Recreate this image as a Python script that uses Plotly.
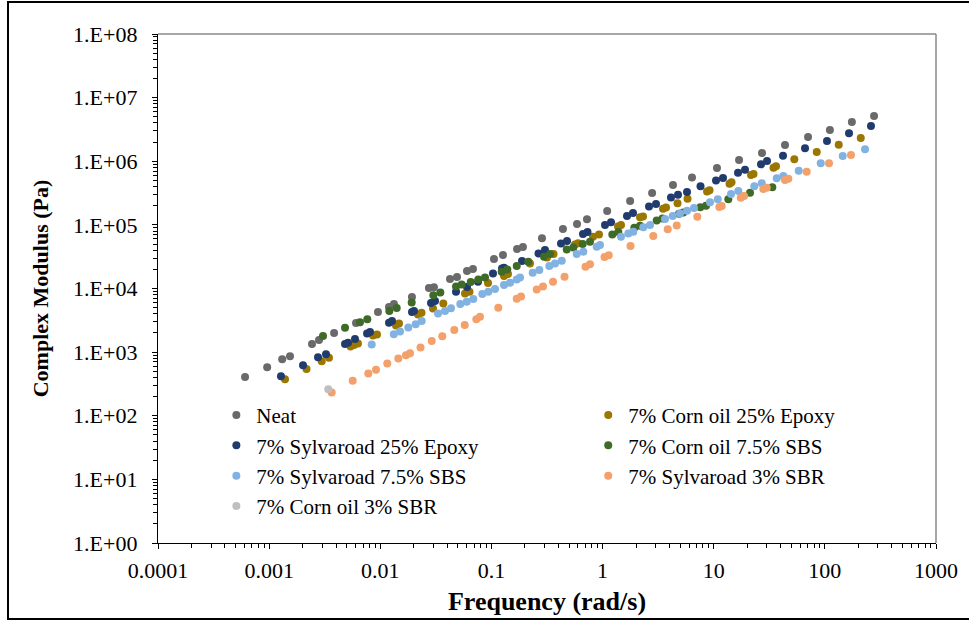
import plotly.graph_objects as go

# Complex modulus master curves (frequency in rad/s, modulus in Pa)
freq_neat = [6.07e-4, 9.6e-4, 1.31e-3, 1.54e-3, 2.43e-3, 2.81e-3, 3.84e-3, 6.05e-3, 9.53e-3, 0.01197,
             0.01327, 0.01927, 0.0274, 0.0304, 0.0424, 0.0490, 0.0603, 0.0682, 0.1054, 0.127,
             0.170, 0.192, 0.285, 0.440, 0.589, 0.724, 1.10, 1.77, 2.79, 4.30,
             6.38, 10.7, 16.9, 27.2, 43.8, 70.6, 111, 175, 277]
g_neat = [405, 581, 776, 865, 1336, 1545, 1990, 2860, 4260, 5100,
          5690, 7330, 10150, 10500, 14060, 15100, 18790, 20200, 28990, 33500,
          41600, 44800, 61900, 85900, 103000, 123000, 165000, 237000, 316000, 423000,
          555000, 782000, 1.045e6, 1.346e6, 1.80e6, 2.40e6, 3.10e6, 4.13e6, 5.14e6]

freq_co_epoxy = [1.389e-3, 2.169e-3, 2.972e-3, 3.456e-3, 5.398e-3, 5.80e-3, 6.30e-3, 8.60e-3, 9.34e-3, 0.01385,
                 0.01474, 0.02184, 0.02349, 0.02981, 0.03690, 0.05786, 0.06350, 0.09316, 0.1298, 0.1410,
                 0.2225, 0.3163, 0.3620, 0.5649, 0.6012, 0.8203, 0.9290, 1.377, 1.465, 2.172,
                 2.311, 3.498, 3.722, 4.724, 5.812, 8.706, 9.167, 13.88, 14.46, 21.66,
                 22.81, 34.51, 36.35, 53.12, 84.5, 133.3, 210.3]
g_co_epoxy = [376, 544, 722, 819, 1221, 1289, 1370, 1817, 1898, 2610,
              2827, 3887, 4149, 4865, 5832, 8375, 8873, 12160, 15670, 16840,
              24630, 30610, 34750, 49010, 51380, 65010, 70400, 94040, 99290, 131200,
              136000, 179100, 187100, 217800, 257300, 333900, 348700, 442800, 465800, 606700,
              629000, 790500, 831700, 1.071e6, 1.395e6, 1.817e6, 2.316e6]

freq_sy_epoxy = [1.278e-3, 2.017e-3, 2.752e-3, 3.249e-3, 4.816e-3, 5.125e-3, 5.92e-3, 7.60e-3, 8.08e-3, 0.01198,
                 0.01275, 0.01929, 0.02011, 0.02861, 0.03108, 0.04802, 0.06031, 0.07572, 0.1033, 0.1245,
                 0.1298, 0.1884, 0.2652, 0.3034, 0.4228, 0.4787, 0.6668, 0.7320, 1.052, 1.191,
                 1.659, 1.878, 2.617, 3.026, 4.128, 4.773, 5.752, 7.606, 10.49, 12.12,
                 16.55, 19.12, 26.65, 30.18, 42.02, 66.3, 104.5, 165, 260]
g_sy_epoxy = [419, 624, 834, 930, 1336, 1410, 1601, 1954, 2063, 2888,
              3072, 4256, 4413, 5894, 6336, 8873, 10520, 12740, 17150, 20560,
              21160, 26970, 35640, 40170, 51190, 55640, 71670, 77030, 99290, 109500,
              137500, 153300, 194000, 212300, 268700, 297400, 328000, 402900, 497300, 544300,
              659400, 735100, 894000, 1.007e6, 1.22e6, 1.595e6, 2.078e6, 2.747e6, 3.577e6]

freq_co_sbs = [3.052e-3, 4.816e-3, 6.568e-3, 7.641e-3, 0.01206, 0.01405, 0.01917, 0.03000, 0.03468, 0.04802,
               0.05402, 0.06510, 0.07621, 0.08753, 0.1237, 0.1389, 0.1689, 0.2147, 0.2972, 0.3366,
               0.4758, 0.5454, 0.6627, 0.7708, 1.224, 1.386, 1.930, 2.172, 3.070, 3.462,
               4.873, 5.327, 7.575, 8.524, 13.53, 21.21, 33.67]
g_co_sbs = [1785, 2411, 2941, 3280, 4444, 4918, 6002, 7818, 8620, 10710,
            11520, 12700, 13800, 14950, 18310, 19970, 22500, 26290, 31510, 34750,
            41190, 44290, 49900, 54240, 70890, 77030, 90070, 96790, 116800, 125600,
            149400, 157200, 189100, 199700, 251700, 319800, 388800]

freq_sy_sbs = [8.372e-3, 0.01323, 0.01504, 0.01787, 0.02083, 0.02359, 0.03307, 0.03822, 0.04328, 0.05248,
               0.05993, 0.06871, 0.08279, 0.09374, 0.1077, 0.1298, 0.1469, 0.1689, 0.1808, 0.2351,
               0.2697, 0.3317, 0.3734, 0.4290, 0.5852, 0.6710, 0.8857, 0.9484, 1.465, 1.704,
               1.890, 2.326, 2.672, 3.646, 4.276, 4.975, 5.752, 6.648, 9.262, 10.87,
               14.31, 16.65, 23.19, 27.04, 36.89, 42.29, 58.19, 91.8, 144.8, 229.8]
g_sy_sbs = [1321, 1905, 2101, 2428, 2736, 3072, 4060, 4413, 4883, 5684,
            6177, 6812, 8164, 8873, 9787, 11310, 12290, 13900, 14950, 17660,
            19470, 22500, 24810, 27260, 34750, 37760, 45270, 48110, 65010, 73500,
            77880, 91350, 99290, 123400, 137500, 151600, 166700, 183800, 225800, 251700,
            305000, 339900, 402900, 449200, 538400, 585300, 708900, 926800, 1.207e6, 1.539e6]

freq_sy_sbr = [3.655e-3, 5.646e-3, 7.801e-3, 9.152e-3, 0.01156, 0.01453, 0.01703, 0.01851, 0.02301, 0.02903,
               0.03614, 0.04634, 0.05750, 0.07311, 0.07892, 0.1153, 0.1689, 0.1846, 0.2555, 0.2911,
               0.3582, 0.4546, 0.7023, 0.7708, 1.041, 1.136, 1.784, 2.860, 3.856, 4.647,
               7.118, 11.23, 11.80, 17.50, 18.74, 27.94, 30.00, 43.80, 46.92, 68.67,
               109.0, 172.0]
g_sy_sbr = [232.5, 353.8, 462.6, 526.8, 664, 796, 897, 964, 1186, 1489,
            1772, 2218, 2658, 3280, 3589, 4971, 6888, 7513, 9678, 10790,
            12740, 15280, 21940, 24020, 31170, 33270, 46420, 66660, 85270, 98200,
            134100, 190500, 197500, 266800, 283700, 365600, 383100, 506300, 530600, 683700,
            926800, 1.252e6]

freq_co_sbr = [3.405e-3]
g_co_sbr = [262]

# (name, x, y, colour, legend column)
series = [
    ("Neat", freq_neat, g_neat, "#6a6a6a", "legend"),
    ("7% Corn oil 25% Epoxy", freq_co_epoxy, g_co_epoxy, "#9c7700", "legend2"),
    ("7% Sylvaroad 25% Epoxy", freq_sy_epoxy, g_sy_epoxy, "#203b6e", "legend"),
    ("7% Corn oil 7.5% SBS", freq_co_sbs, g_co_sbs, "#3e6b28", "legend2"),
    ("7% Sylvaroad 7.5% SBS", freq_sy_sbs, g_sy_sbs, "#82b2e2", "legend"),
    ("7% Sylvaroad 3% SBR", freq_sy_sbr, g_sy_sbr, "#f4a06a", "legend2"),
    ("7% Corn oil 3% SBR", freq_co_sbr, g_co_sbr, "#bfbfbf", "legend"),
]

x_tick_vals = [1e-4, 1e-3, 1e-2, 1e-1, 1, 10, 100, 1000]
x_tick_text = ["0.0001", "0.001", "0.01", "0.1", "1", "10", "100", "1000"]
y_tick_vals = [1e0, 1e1, 1e2, 1e3, 1e4, 1e5, 1e6, 1e7, 1e8]
y_tick_text = ["1.E+00", "1.E+01", "1.E+02", "1.E+03", "1.E+04", "1.E+05", "1.E+06", "1.E+07", "1.E+08"]

FONT = "Liberation Serif"

fig = go.Figure()
for name, fx, gy, color, leg in series:
    fig.add_trace(go.Scatter(
        x=fx, y=gy, mode="markers", name=name, legend=leg,
        marker=dict(size=8, color=color, line=dict(width=0)),
    ))


def minor_vals(lo, hi):
    vals = []
    for e in range(lo, hi):
        for k in range(2, 10):
            vals.append(k * 10.0 ** e)
    return vals


axis_common = dict(
    type="log", showgrid=False, zeroline=False, showline=True, automargin=False,
    linecolor="black", linewidth=1.3, ticks="outside", ticklen=5,
    tickcolor="black", tickwidth=1.2,
    tickfont=dict(family=FONT, size=22, color="black"),
)

fig.update_xaxes(
    range=[-4, 3], tickmode="array", tickvals=x_tick_vals, ticktext=x_tick_text,
    minor=dict(tickmode="array", tickvals=minor_vals(-4, 3), ticks="outside",
               ticklen=4, tickcolor="black", tickwidth=1, showgrid=False),
    title=dict(text="<b>Frequency (rad/s)</b>", font=dict(family=FONT, size=26, color="black"),
               standoff=10),
    ticklabelstandoff=2,
    **axis_common,
)
fig.update_yaxes(
    range=[0, 8], tickmode="array", tickvals=y_tick_vals, ticktext=y_tick_text,
    minor=dict(tickmode="array", tickvals=minor_vals(0, 8), ticks="outside",
               ticklen=4, tickcolor="black", tickwidth=1, showgrid=False),
    title=dict(text="<b>Complex Modulus (Pa)</b>", font=dict(family=FONT, size=22, color="black"),
               standoff=18),
    ticklabelstandoff=10,
    **axis_common,
)

legend_style = dict(
    orientation="v", yanchor="top", xanchor="left", y=0.291,
    font=dict(family=FONT, size=21, color="black"),
    bgcolor="rgba(0,0,0,0)", traceorder="normal", tracegroupgap=0,
)

fig.update_layout(
    width=969, height=621, autosize=False,
    margin=dict(l=158, r=33, t=34, b=78),
    paper_bgcolor="white", plot_bgcolor="white",
    font=dict(family=FONT, color="black"),
    legend=dict(x=0.075, **legend_style),
    legend2=dict(x=0.553, **legend_style),
    shapes=[
        # plot-area frame on top and right
        dict(type="line", xref="paper", yref="paper", x0=0, x1=1, y0=1, y1=1,
             line=dict(color="#8a8a8a", width=1.5)),
        dict(type="line", xref="paper", yref="paper", x0=1, x1=1, y0=0, y1=1,
             line=dict(color="#8a8a8a", width=1.5)),
        # outer chart border
        dict(type="rect", xref="paper", yref="paper", x0=-0.1928, x1=1.1, y0=-0.1493, y1=1.0629,
             line=dict(color="black", width=2), fillcolor="rgba(0,0,0,0)", layer="below"),
    ],
)

fig.write_html("out.html")
